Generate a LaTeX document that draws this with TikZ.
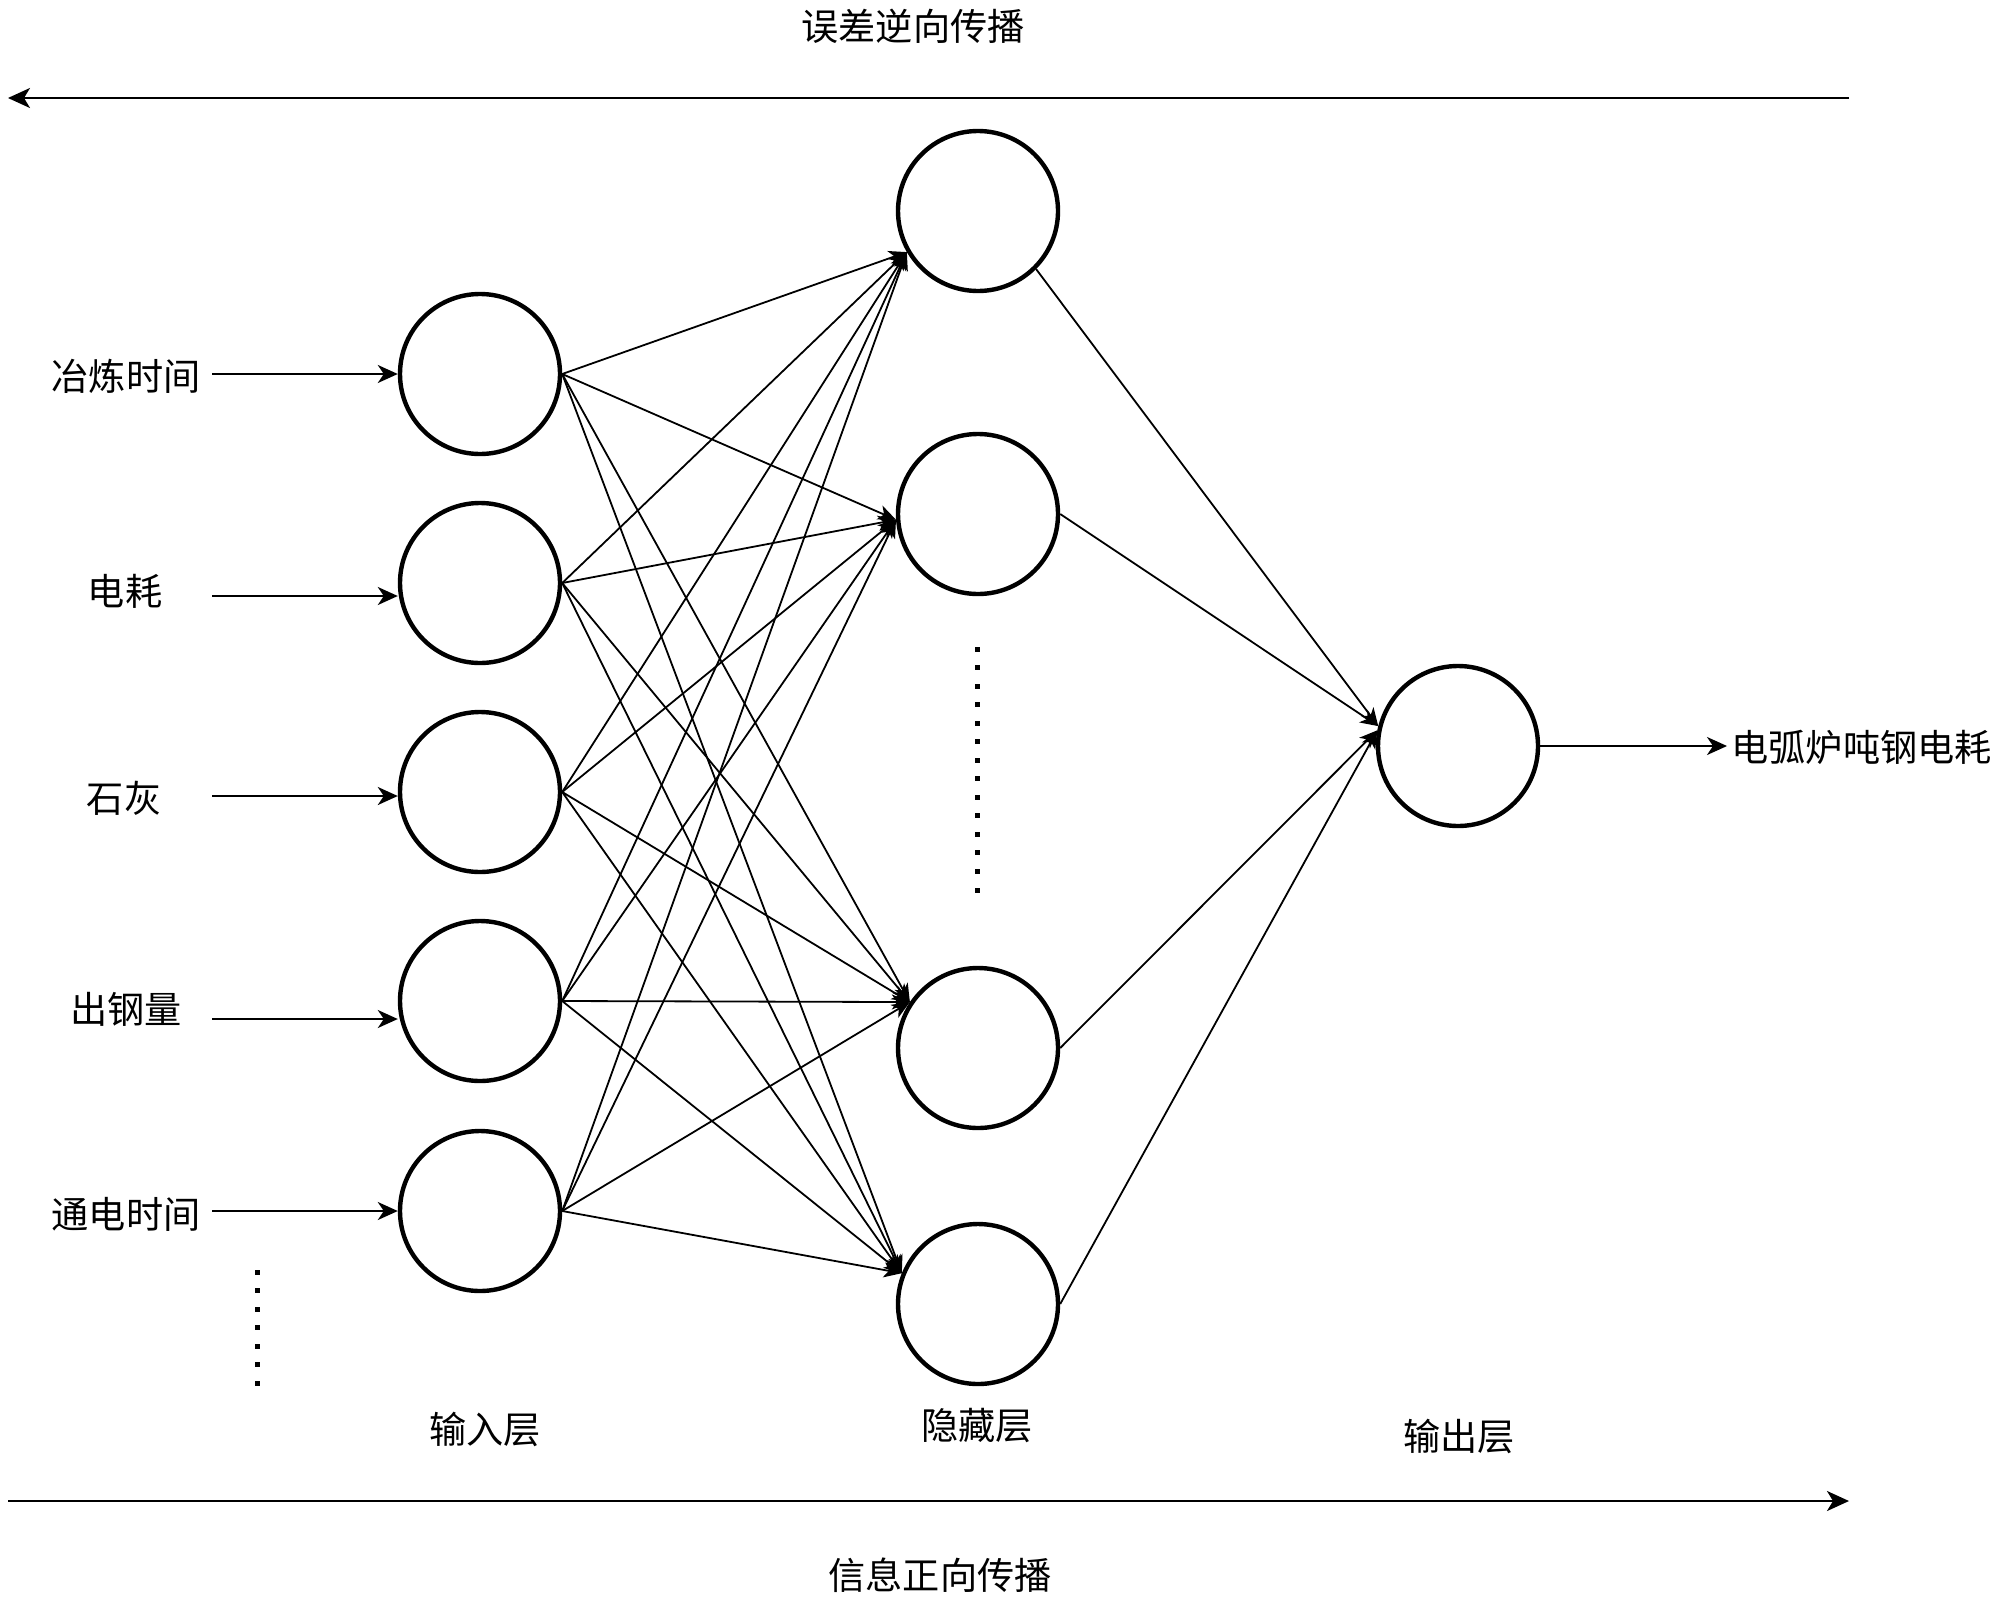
\documentclass[tikz,border=0pt]{standalone}
\usepackage{fontspec}
\newfontfamily\cjk{Noto Sans CJK SC}
\usetikzlibrary{arrows.meta,calc}
\begin{document}
\begin{tikzpicture}[x=0.5pt,y=-0.5pt,
  neuron/.style={circle,draw,line width=2.2pt,minimum size=80pt,inner sep=0pt},
  lbl/.style={font=\cjk\fontsize{18.6}{22}\selectfont,inner sep=0pt},
  conn/.style={line width=0.9pt,-{Stealth[length=9pt,width=7.5pt,inset=2.5pt]}},
  feed/.style={line width=1.05pt,-{Stealth[length=10pt,width=9pt,inset=3pt]}},
  flow/.style={line width=1.15pt,-{Stealth[length=11pt,width=10pt,inset=3pt]}}
]
\useasboundingbox (0,0) rectangle (2000,1600);

% input layer
\node[neuron] (i1) at (480,374) {};
\node[neuron] (i2) at (480,583) {};
\node[neuron] (i3) at (480,792) {};
\node[neuron] (i4) at (480,1001) {};
\node[neuron] (i5) at (480,1211) {};
% hidden layer
\node[neuron] (h1) at (978,211) {};
\node[neuron] (h2) at (978,514) {};
\node[neuron] (h3) at (978,1048) {};
\node[neuron] (h4) at (978,1304) {};
% output
\node[neuron] (o) at (1458,746) {};

% input labels
\node[lbl] (t1) at (126,376) {冶炼时间};
\node[lbl] (t2) at (125,591) {电耗};
\node[lbl] (t3) at (124,798) {石灰};
\node[lbl] (t4) at (126,1009) {出钢量};
\node[lbl] (t5) at (126,1214) {通电时间};

\coordinate (s1) at (212,374);
\coordinate (s2) at (212,596);
\coordinate (s3) at (212,796);
\coordinate (s4) at (212,1019);
\coordinate (s5) at (212,1211);
\foreach \k in {1,...,5} {
  \draw[feed] (s\k) -- (s\k -| i\k.west);
}

% input -> hidden
\foreach \k in {1,...,5} {
  \draw[conn] (i\k.east) -- (h1.210);
  \draw[conn] (i\k.east) -- (h2.184);
  \draw[conn] (i\k.east) -- (h3.146);
  \draw[conn] (i\k.east) -- (h4.158);
}
% hidden -> output
\draw[conn] (h1.-45) -- (o.166);
\draw[conn] (h2.east) -- (o.166);
\draw[conn] (h3.east) -- (o.169);
\draw[conn] (h4.east) -- (o.169);

% output label
\node[lbl,anchor=west] (ot) at (1731,747) {电弧炉吨钢电耗};
\draw[feed,shorten >=2pt] (o.east) -- (o.east -| ot.west);

% dots
\foreach \k in {0,...,13} {
  \fill ({977-2.5},{649+18.54*\k-2.5}) rectangle ++(5,5);
}
\foreach \k in {0,...,6} {
  \fill ({257-2.5},{1272+18.5*\k-2.5}) rectangle ++(5,5);
}

% layer labels
\node[lbl] (l1) at (485,1429) {输入层};
\node[lbl] (l2) at (977,1426) {隐藏层};
\node[lbl] (l3) at (1459,1436) {输出层};

% propagation arrows
\node[lbl] (top) at (913,26) {误差逆向传播};
\coordinate (ta) at (1849,98);
\coordinate (tb) at (8,98);
\draw[flow] (ta) -- (tb);

\node[lbl] (bot) at (940,1575) {信息正向传播};
\coordinate (ba) at (8,1501);
\coordinate (bb) at (1849,1501);
\draw[flow] (ba) -- (bb);
\end{tikzpicture}
\end{document}
